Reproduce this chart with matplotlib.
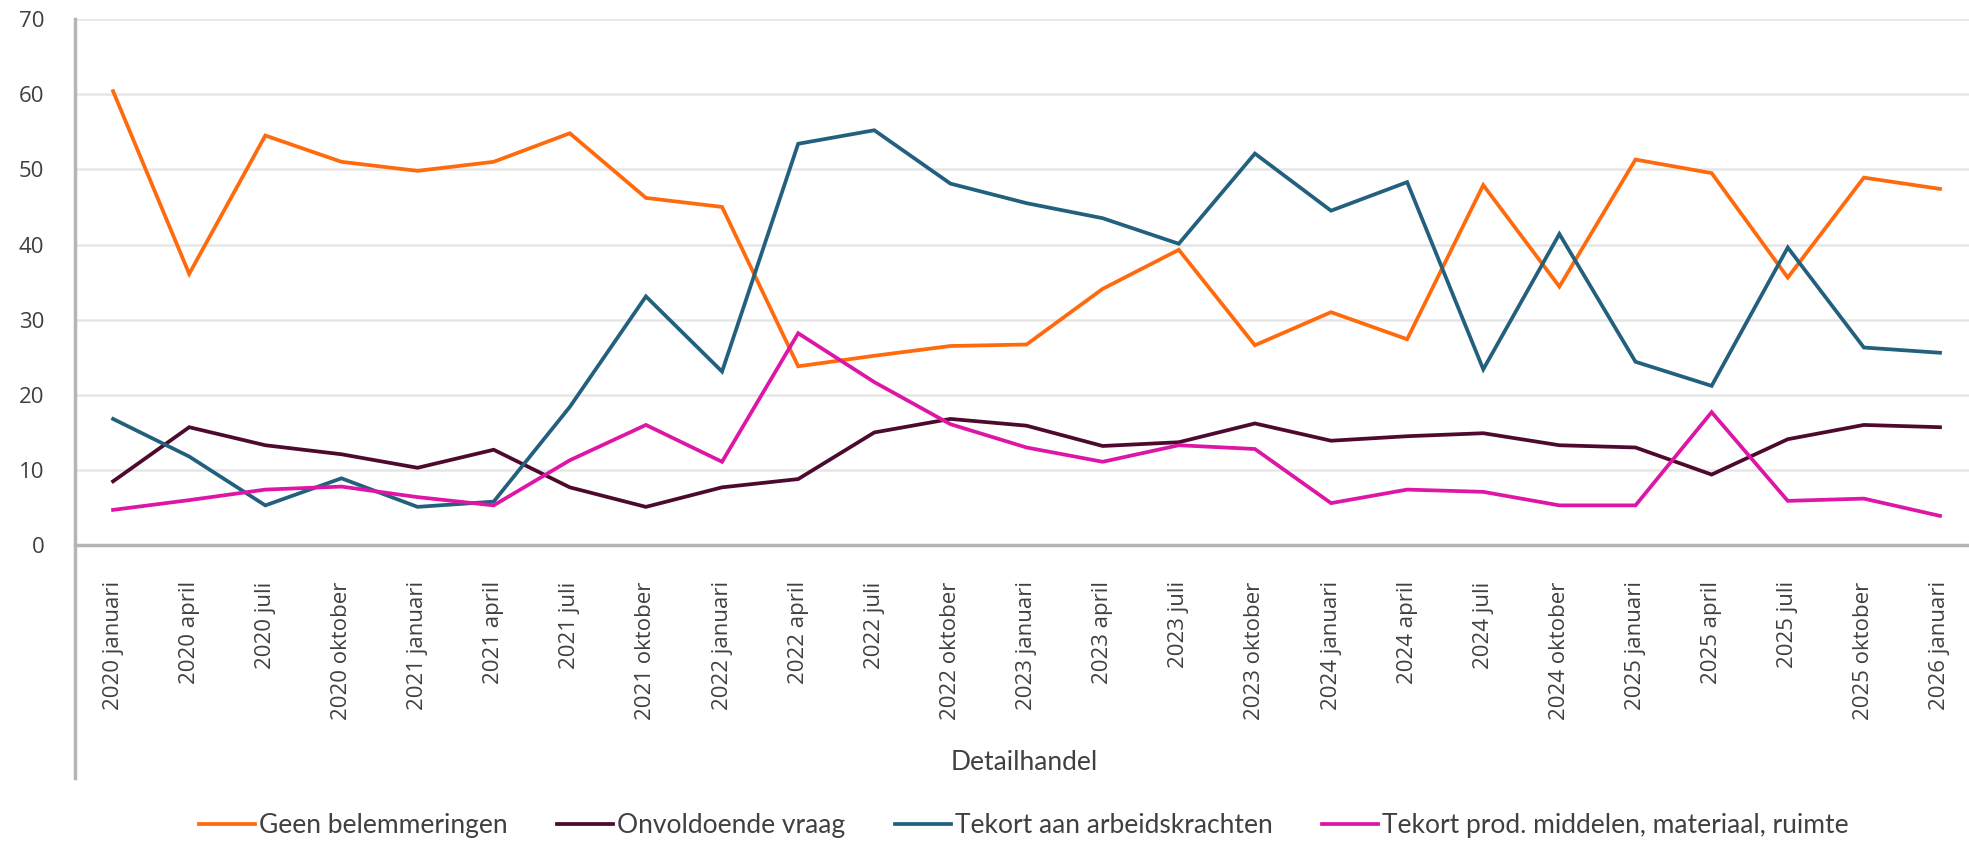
import matplotlib
matplotlib.use("Agg")
import matplotlib.pyplot as plt
from matplotlib.lines import Line2D

# Data
periods = ["2020 januari", "2020 april", "2020 juli", "2020 oktober",
           "2021 januari", "2021 april", "2021 juli", "2021 oktober",
           "2022 januari", "2022 april", "2022 juli", "2022 oktober",
           "2023 januari", "2023 april", "2023 juli", "2023 oktober",
           "2024 januari", "2024 april", "2024 juli", "2024 oktober",
           "2025 januari", "2025 april", "2025 juli", "2025 oktober",
           "2026 januari"]

geen = [60.4, 36.1, 54.5, 51.0, 49.8, 51.0, 54.8, 46.2, 45.0, 23.8, 25.2, 26.5,
        26.7, 34.1, 39.3, 26.6, 31.0, 27.4, 47.9, 34.4, 51.3, 49.5, 35.6, 48.9, 47.4]
onvoldoende = [8.5, 15.7, 13.3, 12.1, 10.3, 12.7, 7.7, 5.1, 7.7, 8.8, 15.0, 16.8,
               15.9, 13.2, 13.7, 16.2, 13.9, 14.5, 14.9, 13.3, 13.0, 9.4, 14.1, 16.0, 15.7]
arbeid = [16.8, 11.8, 5.3, 8.9, 5.1, 5.8, 18.4, 33.1, 23.1, 53.4, 55.2, 48.1,
          45.5, 43.5, 40.1, 52.1, 44.5, 48.3, 23.4, 41.4, 24.4, 21.2, 39.6, 26.3, 25.6]
materiaal = [4.7, 6.0, 7.4, 7.8, 6.4, 5.3, 11.3, 16.0, 11.1, 28.2, 21.7, 16.1,
             13.0, 11.1, 13.3, 12.8, 5.6, 7.4, 7.1, 5.3, 5.3, 17.7, 5.9, 6.2, 3.9]

series_names = ["Geen belemmeringen", "Onvoldoende vraag",
                "Tekort aan arbeidskrachten", "Tekort prod. middelen, materiaal, ruimte"]
colors = ["#FF6A0D", "#4E0A2E", "#22607E", "#DE16A6"]
group_label = "Detailhandel"

fig = plt.figure(figsize=(19.69, 8.44), dpi=100)
ax = fig.add_axes([0.0381, 0.354, 0.9665, 0.6235])

x = list(range(len(periods)))
for vals, name, c in zip([geen, onvoldoende, arbeid, materiaal], series_names, colors):
    ax.plot(x, vals, color=c, lw=2.7, label=name, solid_joinstyle="miter")

ax.set_xlim(-0.5, len(periods) - 0.5)
ax.set_ylim(0, 70)
ax.set_yticks(range(0, 71, 10))
ax.yaxis.grid(True, color="#E6E6E6", lw=1.8)
ax.set_axisbelow(True)

for s in ["top", "right"]:
    ax.spines[s].set_visible(False)
ax.spines["bottom"].set_color("#B5B5B5")
ax.spines["bottom"].set_linewidth(2.5)
ax.spines["left"].set_visible(False)
# left axis line runs down through the category label area
ax.add_line(Line2D([0, 0], [-0.443, 1.0], transform=ax.transAxes, color="#B5B5B5",
                   lw=2.5, clip_on=False))

ax.set_xticks(x)
ax.set_xticklabels(periods, rotation=90, fontsize=16, color="#404040",
                   family="Open Sans")
ax.tick_params(axis="x", length=0, pad=26)
ax.tick_params(axis="y", length=0, pad=22, labelsize=16, labelcolor="#404040")
for lbl in ax.get_yticklabels():
    lbl.set_family("Open Sans")

fig.text(0.52, 0.096, group_label, ha="center", va="center", fontsize=19,
         color="#404040", family="Lato")

fig.legend(loc="center", bbox_to_anchor=(0.52, 0.022), ncol=4, frameon=False,
           prop={"family": "Lato", "size": 19}, labelcolor="#404040",
           handlelength=2.1, handletextpad=0.15, columnspacing=1.9)

fig.savefig("out.png", dpi=100)
